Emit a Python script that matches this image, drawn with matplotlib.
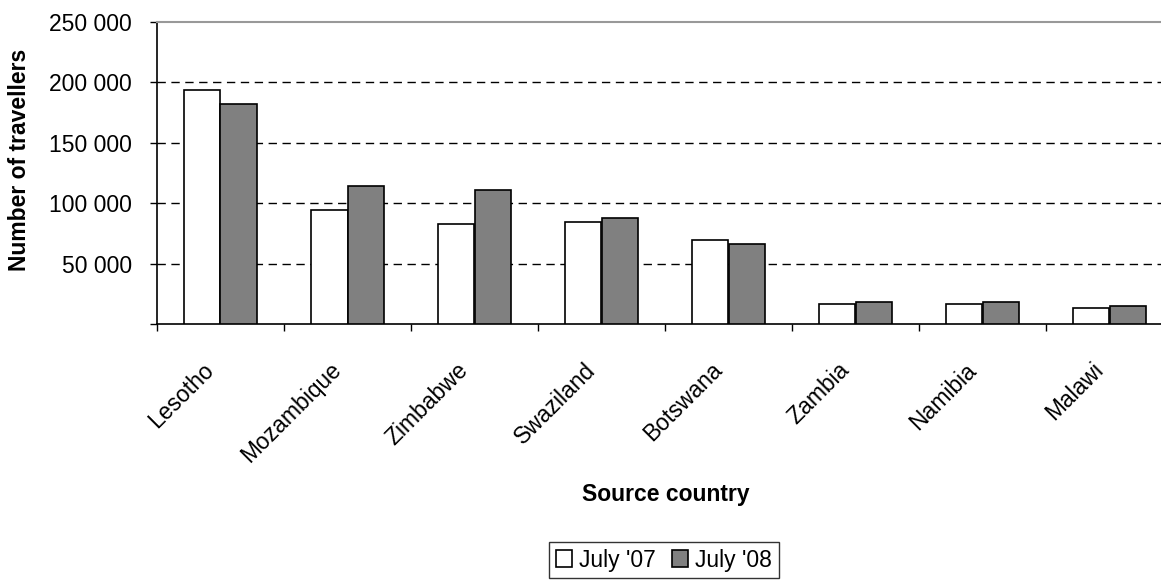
import matplotlib
matplotlib.use("Agg")
import matplotlib.pyplot as plt
import matplotlib.transforms as mtransforms
import numpy as np
from matplotlib.ticker import FuncFormatter, FixedLocator

countries = ["Lesotho", "Mozambique", "Zimbabwe", "Swaziland", "Botswana",
             "Zambia", "Namibia", "Malawi"]
july_07 = [194000, 94500, 82900, 84500, 69600, 16600, 16600, 13000]
july_08 = [181800, 114400, 110800, 87600, 66000, 18000, 18000, 14900]
series_names = ["July '07", "July '08"]
y_ticks = [0, 50000, 100000, 150000, 200000, 250000]

plt.rcParams["font.family"] = ["Liberation Sans", "DejaVu Sans"]
FS = 16.5

fig = plt.figure(figsize=(11.61, 5.82), dpi=100)
ax = fig.add_axes([157 / 1161, 258 / 582, 1016 / 1161, 302 / 582])

x = np.arange(len(countries))
w = 1 / 3.5
ax.bar(x - w / 2, july_07, width=w, color="white", edgecolor="black",
       linewidth=1.2, label=series_names[0], zorder=3)
ax.bar(x + w / 2, july_08, width=w, color="#808080", edgecolor="black",
       linewidth=1.2, label=series_names[1], zorder=3)

ax.set_xlim(-0.5, len(countries) - 0.5)
ax.set_ylim(0, 250000)

ax.yaxis.set_major_locator(FixedLocator(y_ticks))
ax.yaxis.set_major_formatter(FuncFormatter(
    lambda v, p: "" if v == 0 else f"{int(v):,}".replace(",", " ")))
ax.tick_params(axis="y", direction="out", length=5, width=1, labelsize=FS, pad=13)

for v in y_ticks[1:-1]:
    ax.axhline(v, color="black", linestyle=(0, (6, 4)), linewidth=1, zorder=1)

ax.set_xticks(x)
ax.set_xticklabels(countries, rotation=45, ha="right", va="top",
                   rotation_mode="anchor", fontsize=FS)
ax.tick_params(axis="x", which="major", length=0, pad=22)
ax.set_xticks(np.arange(len(countries) + 1) - 0.5, minor=True)
ax.tick_params(axis="x", which="minor", direction="out", length=5, width=1)

# nudge the slanted category names left and slightly down
shift = mtransforms.ScaledTranslation(-18 / 100, -4 / 100, fig.dpi_scale_trans)
for lbl in ax.get_xticklabels():
    lbl.set_transform(lbl.get_transform() + shift)

for s in ["left", "bottom"]:
    ax.spines[s].set_color("black")
    ax.spines[s].set_linewidth(1.2)
ax.spines["top"].set_color("#999999")
ax.spines["top"].set_linewidth(1.5)
ax.spines["right"].set_visible(False)

fig.text(20 / 1161, 1 - 160 / 582, "Number of travellers", rotation=90,
         ha="center", va="center", fontsize=FS, fontweight="bold")
fig.text(666 / 1161, 1 - 494 / 582, "Source country", ha="center",
         va="center", fontsize=FS, fontweight="bold")

leg = fig.legend(loc="center", bbox_to_anchor=(664 / 1161, 1 - 560 / 582),
                 ncol=2, fontsize=FS, frameon=True, fancybox=False,
                 handlelength=0.7, handleheight=0.7, handletextpad=0.3,
                 columnspacing=0.7, borderpad=0.3, borderaxespad=0)
leg.get_frame().set_edgecolor("black")
leg.get_frame().set_linewidth(1)

fig.savefig("out.png", dpi=100)
